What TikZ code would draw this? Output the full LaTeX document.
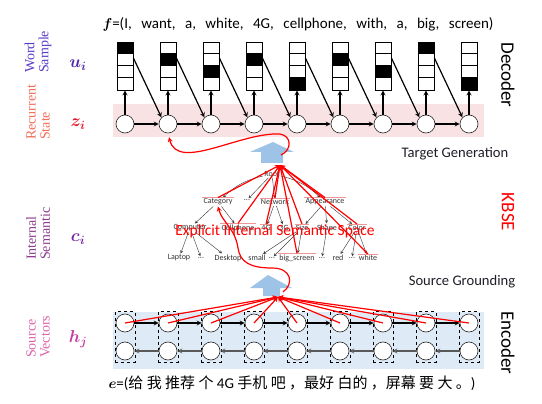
\documentclass[tikz,border=0pt]{standalone}
\usepackage{bm}
\usepackage{fontspec}
\setmainfont{Carlito}
\newfontfamily\cjk{Noto Sans CJK SC}
\newfontfamily\lblfont{Liberation Serif}
\usetikzlibrary{arrows,fit,calc}

\definecolor{bandred}{RGB}{248,226,228}
\definecolor{bandblue}{RGB}{222,234,246}
\definecolor{arrblue}{RGB}{157,195,230}
\definecolor{hlred}{RGB}{240,150,150}
\definecolor{wordc}{RGB}{90,60,200}
\definecolor{uc}{RGB}{80,40,170}
\definecolor{recc}{RGB}{240,110,90}
\definecolor{zc}{RGB}{230,20,40}
\definecolor{intc}{RGB}{140,60,140}
\definecolor{cc}{RGB}{120,40,160}
\definecolor{srcc}{RGB}{220,100,170}
\definecolor{hc}{RGB}{200,60,160}
\definecolor{txtc}{RGB}{30,30,40}

\tikzset{
  zcirc/.style={circle,draw=black!85,fill=white,minimum size=18pt,inner sep=0pt,line width=.6pt},
  ubox/.style={draw,minimum width=16pt,minimum height=48pt,inner sep=0pt,line width=.8pt},
  arr/.style={-stealth,line width=1.2pt},
  tnode/.style={font=\fontsize{8}{8}\selectfont,inner sep=1pt,text=black!80},
  tedge/.style={-stealth,line width=.45pt,black!75},
  redarr/.style={-stealth,red,line width=1.2pt},
  hl/.style={hlred,line width=.7pt},
  sidelbl/.style={rotate=90,anchor=west,align=left,inner sep=0pt,font=\lblfont\fontsize{14}{14}\selectfont},
  mathlbl/.style={font=\fontsize{18}{18}\selectfont},
  partlbl/.style={rotate=-90,font=\fontsize{19}{19}\selectfont},
  steplbl/.style={text=txtc,font=\fontsize{14.6}{15}\selectfont}
}

\begin{document}
\begin{tikzpicture}[x=1pt,y=-1pt]
\useasboundingbox (0,0) rectangle (542,404);
% bands
\fill[bandred] (113,104) rectangle (484,137);
\fill[bandblue] (113,312) rectangle (484,369);

% side labels
\node[sidelbl,text=wordc] (lword) at (38,73) {Word\\Sample};
\node[sidelbl,text=recc] (lrec) at (38,140) {Recurrent\\State};
\node[sidelbl,text=intc] (lint) at (38,260) {Internal\\Semantic};
\node[sidelbl,text=srcc] (lsrc) at (38,358) {Source\\Vectors};
\node[mathlbl,text=uc] (mu) at (78,65) {$\bm{u_i}$};
\node[mathlbl,text=zc] (mz) at (78,124) {$\bm{z_i}$};
\node[mathlbl,text=cc] (mc) at (78,239) {$\bm{c_i}$};
\node[mathlbl,text=hc] (mh) at (78,339) {$\bm{h_j}$};
\node[partlbl] (ldec) at (508,75) {Decoder};
\node[partlbl,text=red] (lkb) at (508,212) {KBSE};
\node[partlbl] (lenc) at (508,343) {Encoder};
\node[steplbl] (ltg) at (455,154) {Target Generation};
\node[steplbl] (lsg) at (462,282) {Source Grounding};

% target words
\node[font=\fontsize{15}{15}\selectfont] (ftitle) at (298,24)
  {$\bm f$=(I,\hspace{9.5pt}want,\hspace{9.5pt}a,\hspace{9.5pt}white,\hspace{9.5pt}4G,\hspace{9.5pt}cellphone,\hspace{9.5pt}with,\hspace{9.5pt}a,\hspace{9.5pt}big,\hspace{9.5pt}screen)};

% decoder
\foreach \i/\x/\k in {1/125/0,2/168/1,3/211/2,4/254/1,5/297/3,6/340/1,7/383/2,8/426/0,9/469/3}{
  \node[zcirc] (z\i) at (\x,124) {};
  \node[ubox] (u\i) at (\x,66) {};
  \fill ($(u\i.north west)+(0,12*\k)$) rectangle ++(16,12);
  \foreach \c in {1,2,3} \draw[line width=.8pt] ($(u\i.north west)+(0,12*\c)$) -- ++(16,0);
  \draw[arr] (z\i) -- (u\i);
}
\foreach \i [evaluate=\i as \j using int(\i+1)] in {1,...,8}{
  \draw[arr] (z\i) -- (z\j);
  \draw[arr] ($(u\i.east)+(0,-8)$) -- (z\j.135);
}

% encoder
\foreach \i/\x in {1/125,2/168,3/211,4/254,5/297,6/340,7/383,8/426,9/469}{
  \node[zcirc] (h\i) at (\x,323) {};
  \node[zcirc] (g\i) at (\x,351) {};
  \node[draw,dashed,line width=.6pt,inner xsep=.5pt,inner ysep=2pt,fit=(h\i)(g\i)] (col\i) {};
}
\foreach \i [evaluate=\i as \j using int(\i+1)] in {1,...,8}{
  \draw[arr] (h\i) -- (h\j);
  \draw[arr,black!65] (g\j) -- (g\i);
}
\node[font=\fontsize{15}{15}\selectfont] (esrc) at (292,383)
  {$\bm e$=({\cjk 给 我 推荐 个} 4G {\cjk 手机 吧 ，最好 白的 ，屏幕 要 大 。})};

% grounding arrows
\fill[arrblue] (250,152) -- (273,142) -- (294,152) -- (283,152) -- (283,163) -- (261,163) -- (261,152) -- cycle;
\fill[arrblue] (250,288) -- (268,275) -- (292,288) -- (280,288) -- (280,296) -- (263,296) -- (263,288) -- cycle;
\coordinate (tgthub) at (280,165);
\coordinate (srchub) at (278,297);

% semantic tree
\node[tnode] (root) at (272,174) {Root};
\node[tnode] (cat) at (218,202) {Category};
\node[tnode] (dotsa) at (247,200) {...};
\node[tnode] (net) at (275,202) {Network};
\node[tnode] (app) at (325,202) {Appearance};
\node[tnode] (comp) at (190,228) {Computer};
\node[tnode] (cell) at (238,228) {Cellphone};
\node[tnode] (fourg) at (266,228) {4G};
\node[tnode] (threeg) at (284,228) {3G};
\node[tnode] (size) at (302,228) {Size};
\node[tnode] (shape) at (327,228) {Shape};
\node[tnode] (color) at (357,228) {Color};
\node[tnode] (laptop) at (179,258) {Laptop};
\node[tnode] (da) at (201,258) {...};
\node[tnode] (desktop) at (228,258) {Desktop};
\node[tnode] (small) at (257,258) {small};
\node[tnode] (db) at (272,258) {...};
\node[tnode] (big) at (297,258) {big\_screen};
\node[tnode] (dc) at (322,258) {...};
\node[tnode] (red) at (338,258) {red};
\node[tnode] (dd) at (352,258) {...};
\node[tnode] (white) at (368,258) {white};
\draw[tedge] (root) to[bend right=15] (cat);
\draw[tedge] (root) to[bend left=15] (app);
\foreach \a/\b in {root/dotsa,root/net,cat/comp,cat/cell,net/fourg,net/threeg,app/size,app/shape,app/color,comp/laptop,comp/da,comp/desktop,size/small,size/db,size/big,shape/dc,color/red,color/dd,color/white}
  \draw[tedge] (\a) -- (\b);
\foreach \n in {cat,net,app,cell,fourg,size,color,big,white}
  \draw[hl] (\n.north west) -- (\n.north east);
\node[text=red,font=\fontsize{15.5}{16}\selectfont] (eiss) at (275,231) {Explicit Internal Semantic Space};
\foreach \n in {cat,net,app,cell,fourg,size,color,big,white}
  \draw[redarr] (\n.north) -- (tgthub);

% red links
\foreach \i in {1,...,9} \draw[redarr] (h\i.center) -- (srchub);
\draw[redarr,shorten >=4pt] (281,155) .. controls (292,150) and (292,136) .. (280,134)
  .. controls (240,132) and (178,172) .. (z2.south);
\draw[redarr] (283,292) .. controls (294,284) and (292,268) .. (272,268)
  .. controls (250,268) and (240,262) .. (238,248)
  .. controls (235,228) and (222,222) .. (cat.south);
\end{tikzpicture}
\end{document}
